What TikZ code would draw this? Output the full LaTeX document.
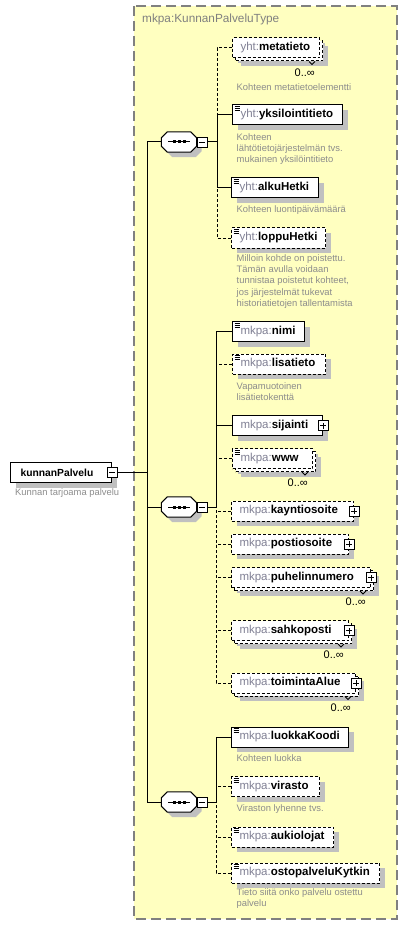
\documentclass[tikz,border=0pt]{standalone}
\usepackage{fontspec}
\setmainfont{Liberation Sans}
\usetikzlibrary{shadows}
\definecolor{frameyellow}{RGB}{255,255,192}
\definecolor{framegray}{RGB}{128,128,128}
\definecolor{shadowgray}{RGB}{192,192,192}
\definecolor{prefixgray}{RGB}{128,128,148}
\definecolor{descgray}{RGB}{140,140,140}
\newcommand{\qn}[2]{{\color{prefixgray}#1:}\textbf{#2}}
\begin{document}
\begin{tikzpicture}[x=1pt,y=-1pt,
  lbl/.style={font=\fontsize{11.5}{13}\selectfont},
  shad/.style={drop shadow={shadow xshift=5pt,shadow yshift=-5pt,fill=shadowgray,opacity=1}},
  el/.style={draw, fill=white, line width=1pt, minimum height=20pt, inner xsep=8pt, inner ysep=0pt, align=left, anchor=west, lbl, shad},
  opt/.style={dash pattern=on 3pt off 2pt},
  mult/.style={general shadow={shadow xshift=8pt,shadow yshift=-8pt,fill=shadowgray,opacity=1},
               general shadow={shadow xshift=3pt,shadow yshift=-3pt,fill=white,draw=black,opacity=1,dash pattern=on 3pt off 2pt}},
  icon/.style={path picture={\foreach \dy in {-1.5pt,-3.5pt,-5.5pt}{\draw[line width=0.8pt,solid] ([shift={(2pt,\dy)}]path picture bounding box.north west) -- ++(5,0);}}},
  pmbox/.style={draw, solid, fill=white, line width=0.8pt, minimum size=10pt, inner sep=0pt},
  plusbox/.style={pmbox, path picture={\draw[line width=0.8pt] ([xshift=-3pt]path picture bounding box.center) -- ([xshift=3pt]path picture bounding box.center) ([yshift=-3pt]path picture bounding box.center) -- ([yshift=3pt]path picture bounding box.center);}},
  minusbox/.style={pmbox, path picture={\draw[line width=0.8pt] ([xshift=-3pt]path picture bounding box.center) -- ([xshift=3pt]path picture bounding box.center);}},
  seqframe/.style={minimum width=35pt, minimum height=20pt, inner sep=0pt},
  desc/.style={anchor=north west, inner sep=0pt, align=left, text=descgray, font=\fontsize{9.4}{11.2}\selectfont},
  card/.style={anchor=north east, inner sep=0pt, font=\fontsize{11}{12}\selectfont},
  notch/.style={line width=0.8pt},
  conn/.style={line width=1pt},
  dsh/.style={conn, dash pattern=on 3pt off 2pt}
]
\useasboundingbox (0,0) rectangle (407,925);
% frame
\draw[framegray, line width=1.3pt, dash pattern=on 10pt off 5pt, fill=frameyellow] (134,6) rectangle (397,919);
\node[anchor=west, inner sep=0pt, text=framegray, font=\fontsize{11.8}{13}\selectfont] (title) at (142,19) {mkpa:KunnanPalveluType};

% root
\node[el, line width=1.2pt, text width=81pt, inner xsep=10pt, font=\fontsize{10.3}{12}\selectfont\bfseries] (k) at (10,472.5) {kunnanPalvelu};
\node[minusbox] (km) at (k.east) {};
\node[desc] (dk) at (15,488.5) {Kunnan tarjoama palvelu};

% sequences (octagon compositors)
\foreach \n/\y in {1/142,2/507,3/802}{
  \node[seqframe] (s\n) at (179,\y) {};
  \draw[line width=1pt, fill=white, shad]
    ([xshift=6pt]s\n.north west) -- ([xshift=-6pt]s\n.north east) -- ([yshift=-6pt]s\n.north east)
    -- ([yshift=6pt]s\n.south east) -- ([xshift=-6pt]s\n.south east) -- ([xshift=6pt]s\n.south west)
    -- ([yshift=6pt]s\n.south west) -- ([yshift=-6pt]s\n.north west) -- cycle;
  \draw[line width=1pt] ([xshift=-11pt]s\n.center) -- ([xshift=11pt]s\n.center);
  \foreach \dx in {-6.5pt,-1.5pt,3.5pt}{
    \fill ([shift={(\dx,1.5pt)}]s\n.center) rectangle ++(3,3);
  }
  \node[minusbox, anchor=west] (m\n) at (s\n.east) {};
}

% sequence 1 children
\node[el, opt, mult, text width=71pt] (e1) at (232,48) {\qn{yht}{metatieto}};
\node[card] (c1) at ([xshift=-5pt,yshift=-10pt]e1.south east) {0..∞};
\node[desc] (d1) at (236.5,83.5) {Kohteen metatietoelementti};
\node[el, icon, text width=94pt] (e2) at (232,115) {\qn{yht}{yksilointitieto}};
\node[desc] (d2) at (236.5,133.5) {Kohteen\\lähtötietojärjestelmän tvs.\\mukainen yksilöintitieto};
\node[el, icon, text width=71pt] (e3) at (231,188) {\qn{yht}{alkuHetki}};
\node[desc] (d3) at (236.5,205.5) {Kohteen luontipäivämäärä};
\node[el, opt, icon, text width=78pt] (e4) at (231,238) {\qn{yht}{loppuHetki}};
\node[desc] (d4) at (236.5,254.5) {Milloin kohde on poistettu.\\Tämän avulla voidaan\\tunnistaa poistetut kohteet,\\jos järjestelmät tukevat\\historiatietojen tallentamista};

% sequence 2 children
\node[el, icon, text width=56pt] (e5) at (232,331.5) {\qn{mkpa}{nimi}};
\node[el, opt, icon, text width=77pt] (e6) at (232,364) {\qn{mkpa}{lisatieto}};
\node[desc] (d6) at (236.5,382) {Vapamuotoinen\\lisätietokenttä};
\node[el, text width=74pt] (e7) at (232,425.5) {\qn{mkpa}{sijainti}};
\node[plusbox] (p7) at (e7.east) {};
\node[el, opt, mult, icon, text width=64pt] (e8) at (232,458.5) {\qn{mkpa}{www}};
\node[card] (c8) at ([xshift=-5pt,yshift=-10pt]e8.south east) {0..∞};
\node[el, opt, text width=106pt] (e9) at (231,511) {\qn{mkpa}{kayntiosoite}};
\node[plusbox] (p9) at (e9.east) {};
\node[el, opt, text width=101pt] (e10) at (231,544) {\qn{mkpa}{postiosoite}};
\node[plusbox] (p10) at (e10.east) {};
\node[el, opt, mult, text width=123pt] (e11) at (231,577.5) {\qn{mkpa}{puhelinnumero}};
\node[plusbox] (p11) at (e11.east) {};
\node[card] (c11) at ([xshift=-5pt,yshift=-10pt]e11.south east) {0..∞};
\node[el, opt, mult, text width=101pt] (e12) at (231,630.5) {\qn{mkpa}{sahkoposti}};
\node[plusbox] (p12) at (e12.east) {};
\node[card] (c12) at ([xshift=-5pt,yshift=-10pt]e12.south east) {0..∞};
\node[el, opt, mult, text width=108pt] (e13) at (231,683) {\qn{mkpa}{toimintaAlue}};
\node[plusbox] (p13) at (e13.east) {};
\node[card] (c13) at ([xshift=-5pt,yshift=-10pt]e13.south east) {0..∞};

% small notches on repeated elements
\foreach \e in {e1,e8,e11,e12,e13}{
  \draw[notch] ([shift={(-11pt,-3pt)}]\e.south east) -- ++(3,3) -- ++(3,-3);
}

% sequence 3 children
\node[el, icon, text width=101pt] (e14) at (231,737) {\qn{mkpa}{luokkaKoodi}};
\node[desc] (d14) at (236.5,754.5) {Kohteen luokka};
\node[el, opt, icon, text width=72pt] (e15) at (231,786.5) {\qn{mkpa}{virasto}};
\node[desc] (d15) at (236.5,804.5) {Viraston lyhenne tvs.};
\node[el, opt, icon, text width=86pt] (e16) at (231,837) {\qn{mkpa}{aukiolojat}};
\node[el, opt, icon, text width=132pt] (e17) at (231,873) {\qn{mkpa}{ostopalveluKytkin}};
\node[desc] (d17) at (236.5,888) {Tieto siitä onko palvelu ostettu\\palvelu};

% junctions
\coordinate (t0) at (147,472.5);
\coordinate (t1) at (217,142);
\coordinate (t2) at (216,507);
\coordinate (t3) at (216,802);

% main connectors
\draw[conn] (km.east) -- (t0);
\draw[conn] (s1.west) -| (t0);
\draw[conn] (s3.west) -| (t0);
\draw[conn] (s2.west) -- (s2.west -| t0);

% seq 1
\draw[conn] (m1.east) -- (t1);
\draw[conn] (e2.west) -| (t1);
\draw[conn] (e3.west) -| (t1);
\draw[dsh] (e1.west) -| (e2.west -| t1);
\draw[dsh] (e4.west) -| (e3.west -| t1);

% seq 2
\draw[conn] (m2.east) -- (t2);
\draw[conn] (e5.west) -| (t2);
\draw[conn] (e7.west) -- (e7.west -| t2);
\draw[dsh] (e6.west) -- (e6.west -| t2);
\draw[dsh] (e8.west) -- (e8.west -| t2);
\draw[dsh] (e9.west) -- (e9.west -| t2);
\draw[dsh] (e10.west) -- (e10.west -| t2);
\draw[dsh] (e11.west) -- (e11.west -| t2);
\draw[dsh] (e12.west) -- (e12.west -| t2);
\draw[dsh] (e13.west) -| (t2);

% seq 3
\draw[conn] (m3.east) -- (t3);
\draw[conn] (e14.west) -| (t3);
\draw[dsh] (e15.west) -- (e15.west -| t3);
\draw[dsh] (e16.west) -- (e16.west -| t3);
\draw[dsh] (e17.west) -| (t3);
\end{tikzpicture}
\end{document}
